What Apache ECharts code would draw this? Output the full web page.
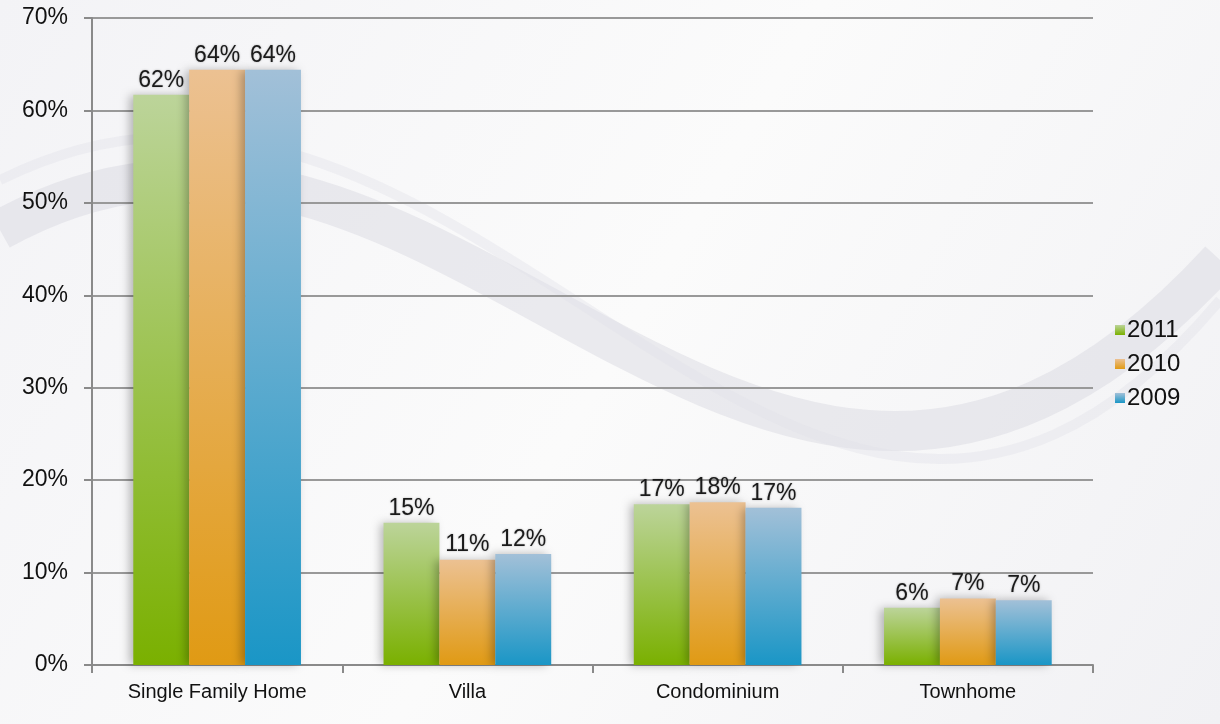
<!DOCTYPE html>
<html>
<head>
<meta charset="utf-8">
<script src="https://cdn.jsdelivr.net/npm/echarts@6/dist/echarts.min.js"></script>
<style>
  html, body { margin: 0; padding: 0; }
  #main { width: 1220px; height: 724px; }
</style>
</head>
<body>
<div id="main"></div>
<script>
// home types and share by year
var categories = ['Single Family Home', 'Villa', 'Condominium', 'Townhome']
var years = ['2011', '2010', '2009']
var v2011 = [61.7, 15.4, 17.4, 6.2]
var v2010 = [64.4, 11.4, 17.6, 7.2]
var v2009 = [64.4, 12.0, 17.0, 7.0]
var yTicks = [0, 10, 20, 30, 40, 50, 60, 70]

var chart = echarts.init(document.getElementById('main'))

function grad(top, bottom) {
  return new echarts.graphic.LinearGradient(0, 0, 0, 1, [
    { offset: 0, color: top },
    { offset: 1, color: bottom }
  ])
}

function barSeries(name, data, top, bottom) {
  return {
    name: name,
    type: 'bar',
    barGap: '0%',
    barCategoryGap: '33%',
    data: data,
    itemStyle: {
      color: grad(top, bottom),
      shadowColor: 'rgba(0,0,0,0.28)',
      shadowBlur: 9,
      shadowOffsetX: -4
    },
    label: {
      show: true,
      position: 'top',
      distance: 3,
      fontFamily: 'Liberation Sans, Arial, sans-serif',
      fontSize: 23,
      color: '#1a1a1a',
      textShadowColor: 'rgba(0,0,0,0.3)',
      textShadowBlur: 2,
      formatter: function(p) {
        return Math.round(p.value) + '%'
      }
    }
  }
}

chart.setOption({
  backgroundColor: new echarts.graphic.LinearGradient(0, 0, 1, 1, [
    { offset: 0, color: '#f3f3f6' },
    { offset: 0.5, color: '#fbfbfb' },
    { offset: 1, color: '#f1f1f4' }
  ]),
  graphic: [{
    type: 'bezierCurve',
    silent: true,
    z: -10,
    shape: { x1: 0, y1: 230, x2: 1220, y2: 260, cpx1: 450, cpy1: -20, cpx2: 760, cpy2: 760 },
    style: { stroke: 'rgba(218,218,226,0.5)', lineWidth: 40, fill: null }
  }, {
    type: 'bezierCurve',
    silent: true,
    z: -10,
    shape: { x1: 0, y1: 180, x2: 1220, y2: 300, cpx1: 480, cpy1: -60, cpx2: 800, cpy2: 800 },
    style: { stroke: 'rgba(224,224,232,0.4)', lineWidth: 10, fill: null }
  }],
  legend: {
    orient: 'vertical',
    left: 1110,
    top: 313,
    itemWidth: 10,
    itemHeight: 10,
    itemGap: 10,
    icon: 'rect',
    data: years,
    textStyle: {
      fontFamily: 'Liberation Sans, Arial, sans-serif',
      fontSize: 24,
      color: '#111',
      padding: [0, 0, 0, -3]
    }
  },
  grid: {
    left: 92,
    right: 127,
    top: 18,
    bottom: 59
  },
  xAxis: {
    type: 'category',
    data: categories,
    axisLine: { lineStyle: { color: '#8a8a8a', width: 2 } },
    axisTick: { show: true, length: 8, lineStyle: { color: '#8a8a8a', width: 2 } },
    axisLabel: {
      margin: 17,
      fontFamily: 'Liberation Sans, Arial, sans-serif',
      fontSize: 20,
      color: '#111'
    }
  },
  yAxis: {
    type: 'value',
    min: 0,
    max: 70,
    interval: 10,
    axisLine: { show: true, lineStyle: { color: '#8a8a8a', width: 2 } },
    axisTick: { show: true, length: 8, lineStyle: { color: '#8a8a8a', width: 2 } },
    splitLine: { lineStyle: { color: '#999', width: 2 } },
    axisLabel: {
      margin: 24,
      fontFamily: 'Liberation Sans, Arial, sans-serif',
      fontSize: 23,
      color: '#111',
      formatter: function(v) {
        return yTicks.indexOf(v) >= 0 ? v + '%' : ''
      }
    }
  },
  series: [
    barSeries(years[0], v2011, '#bcd49a', '#7ab000'),
    barSeries(years[1], v2010, '#ecc192', '#e09a14'),
    barSeries(years[2], v2009, '#a2c0d8', '#1a96c6')
  ],
  color: ['#8db83a', '#e4a850', '#4aa0cf']
})
</script>
</body>
</html>
